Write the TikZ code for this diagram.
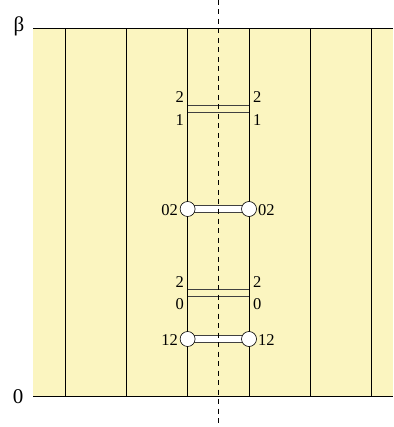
\documentclass[tikz,border=0pt]{standalone}
\usepackage{fontspec}
\setmainfont{Liberation Serif}
\begin{document}
\begin{tikzpicture}[x=1pt,y=-1pt,
  bigl/.style={font=\fontsize{21}{24}\selectfont, inner sep=0pt},
  lab/.style={font=\fontsize{16.5}{18}\selectfont, inner sep=0pt},
  rung/.style={draw=black!75, line width=0.8pt},
  dot/.style={circle, draw=black, fill=white, minimum size=15pt, inner sep=0pt, line width=0.6pt}]
\definecolor{bgy}{HTML}{FBF5C0}
\useasboundingbox (0,0) rectangle (393,427);
\fill[bgy] (33,28.5) rectangle (393,396);
\draw[line width=0.8pt] (33,28.5) -- (393,28.5);
\draw[line width=0.8pt] (33,396) -- (393,396);
\foreach \x in {65,126.3,187.6,249,310.3,371.3} \draw[line width=0.8pt] (\x,28.5) -- (\x,396);
% rung 2/1
\draw[rung] (187.6,105) -- (249,105);
\draw[rung] (187.6,112) -- (249,112);
\node[lab,anchor=east] (l2a) at (184,97) {2};
\node[lab,anchor=east] (l1a) at (184,120) {1};
\node[lab,anchor=west] (r2a) at (253,97) {2};
\node[lab,anchor=west] (r1a) at (253,120) {1};
% rung 2/0
\draw[rung] (187.6,289) -- (249,289);
\draw[rung] (187.6,296) -- (249,296);
\node[lab,anchor=east] (l2b) at (184,282) {2};
\node[lab,anchor=east] (l0b) at (184,304) {0};
\node[lab,anchor=west] (r2b) at (253,282) {2};
\node[lab,anchor=west] (r0b) at (253,304) {0};
% rung 02
\filldraw[fill=white, rung] (187.6,205) rectangle (249,212.5);
\node[dot] (c1) at (187.6,209) {};
\node[dot] (c2) at (249,209) {};
\node[lab,anchor=east] at (178,210) {02};
\node[lab,anchor=west] at (258,210) {02};
% rung 12
\filldraw[fill=white, rung] (187.6,335) rectangle (249,342.5);
\node[dot] (c3) at (187.6,339) {};
\node[dot] (c4) at (249,339) {};
\node[lab,anchor=east] at (178,340) {12};
\node[lab,anchor=west] at (258,340) {12};
% dashed axis
\draw[line width=0.9pt, dash pattern=on 5pt off 4.5pt] (218,0) -- (218,427);
\node[bigl] (beta) at (19,26) {β};
\node[bigl] (zero) at (18,397) {0};
\end{tikzpicture}
\end{document}
